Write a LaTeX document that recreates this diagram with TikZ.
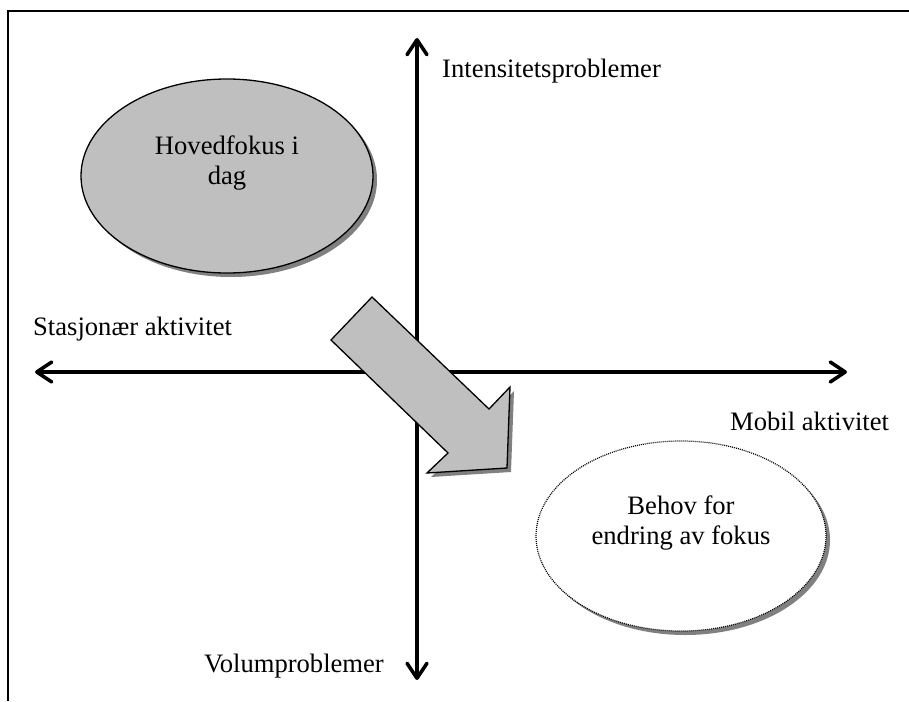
\documentclass[tikz,border=0pt]{standalone}
\usepackage{fontspec}
\setmainfont{Liberation Serif}
\usetikzlibrary{arrows.meta,shapes.geometric,shadows}
\tikzset{
	axis/.style={line width=3.5pt, {Straight Barb[length=15pt,width=20pt,round]}-{Straight Barb[length=15pt,width=20pt,round]}},
	shade4/.style={drop shadow={shadow xshift=4pt, shadow yshift=-4pt, fill=black!50, opacity=1}},
	focus/.style={ellipse, inner sep=0pt, minimum width=292pt, minimum height=194pt, align=center, text depth=32pt, font=\fontsize{26.6}{30}\selectfont},
	axislabel/.style={inner sep=0pt, font=\fontsize{26.6}{30}\selectfont},
}

\begin{document}
\begin{tikzpicture}[x=1pt, y=-1pt]
			%%%%% START %%%%%
			
			\useasboundingbox (0, 0) rectangle (909, 701);
			
			\draw[line width=2pt] (8, 701) -- (8, 11) -- (909, 11);
			
			\coordinate (north) at (417, 38);
			\coordinate (south) at (417, 680);
			\coordinate (west) at (35, 372);
			\coordinate (east) at (847, 372);
			\draw[axis] (south) -- (north);
			\draw[axis] (west) -- (east);
			
			\node[axislabel, anchor=base west] (intens) at (442, 77) {Intensitetsproblemer};
			\node[axislabel, anchor=base west] (stasj) at (33, 335) {Stasjonær aktivitet};
			\node[axislabel, anchor=base west] (mobil) at (730, 430) {Mobil aktivitet};
			\node[axislabel, anchor=base east] (volum) at (384, 672) {Volumproblemer};
			
			\node[focus, draw=black, line width=1.3pt, fill=black!25, shade4] (today) at (227, 176) {Hovedfokus i\\dag};
			\node[focus, draw=black, line width=1.2pt, dash pattern=on 1pt off 1pt, fill=white, shade4, minimum width=290pt, minimum height=190pt] (change) at (681, 536) {Behov for\\endring av fokus};
			
			\draw[line width=1.3pt, line join=miter, fill=black!25, shade4] (372, 297) -- (331, 340) -- (448, 453) -- (427, 473) -- (507, 468) -- (510, 387) -- (489, 409) -- cycle;
			
			%%%%% END %%%%%
\end{tikzpicture}
\end{document}
